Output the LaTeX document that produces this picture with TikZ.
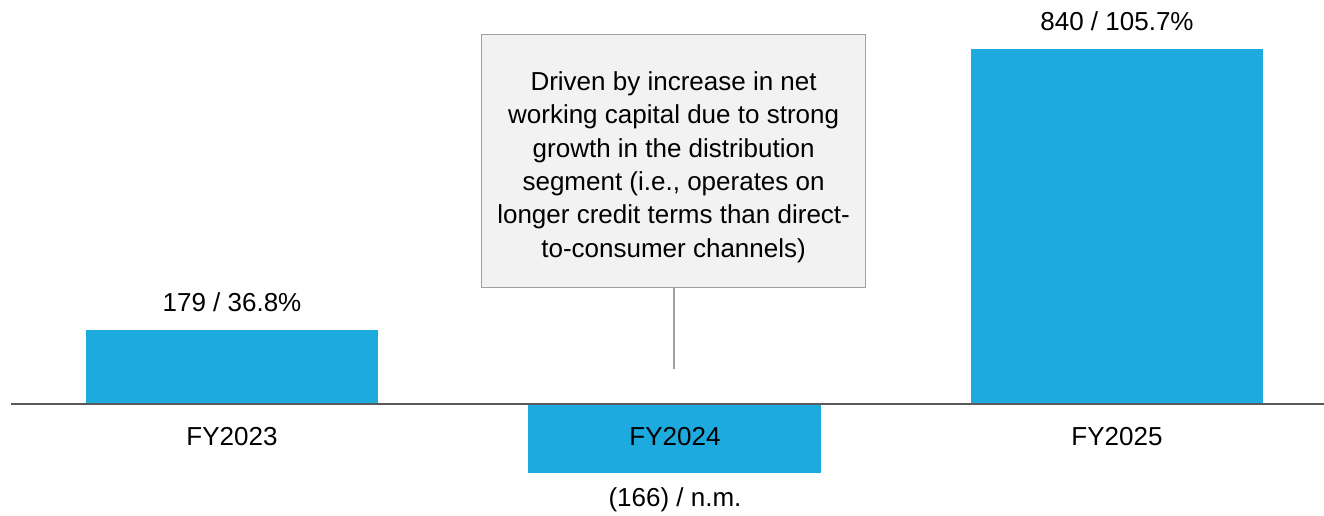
\documentclass[tikz,border=0pt]{standalone}
\usepackage{fontspec}
\setmainfont{Liberation Sans}
\definecolor{barblue}{HTML}{1DABDF}
\definecolor{axisgray}{HTML}{595959}
\definecolor{boxfill}{HTML}{F2F2F2}
\definecolor{boxline}{HTML}{A0A0A0}
\begin{document}
\begin{tikzpicture}[x=1pt,y=-1pt,
  lbl/.style={font=\fontsize{26}{30}\selectfont, text=black, inner sep=0pt, anchor=center},
  bar/.style={fill=barblue, draw=none},
  callout/.style={draw=boxline, line width=1.2pt, fill=boxfill, minimum width=384pt, minimum height=253pt, anchor=north west, inner sep=0pt},
  callouttext/.style={align=center, inner sep=0pt, font=\fontsize{26}{33.4}\selectfont, anchor=center},
  leader/.style={draw=boxline, line width=1.2pt}]
\useasboundingbox (0,0) rectangle (1324,516);
% bars
\fill[bar] (86,330) rectangle (378,404);
\fill[bar] (528,404) rectangle (821,473);
\fill[bar] (971,49) rectangle (1263,404);
% axis
\coordinate (axL) at (11,404);
\coordinate (axR) at (1324,404);
\draw[axisgray, line width=2pt] (axL) -- (axR);
% value labels
\node[lbl] (v1) at (232,302) {179 / 36.8\%};
\node[lbl] (v2) at (675,500) {(166) / n.m.};
\node[lbl] (v3) at (1117,21) {840 / 105.7\%};
% category labels
\node[lbl] (c1) at (232,437) {FY2023};
\node[lbl] (c2) at (675,437) {FY2024};
\node[lbl] (c3) at (1117,437) {FY2025};
% callout
\node[callout] (note) at (481,34) {};
\node[callouttext] (notetext) at ([yshift=-6pt]note.center) {Driven by increase in net\\working capital due to strong\\growth in the distribution\\segment (i.e., operates on\\longer credit terms than direct-\\to-consumer channels)};
\coordinate (leadend) at (674,369);
\draw[leader] (note.south -| leadend) -- (leadend);
\end{tikzpicture}
\end{document}
